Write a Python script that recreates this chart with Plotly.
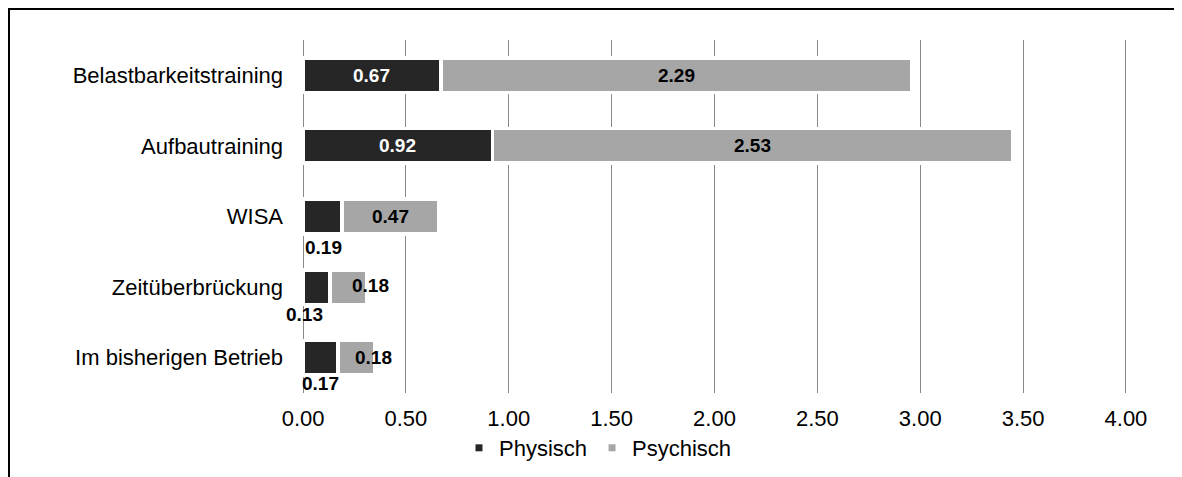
import plotly.graph_objects as go

categories = ["Belastbarkeitstraining", "Aufbautraining", "WISA", "Zeitüberbrückung", "Im bisherigen Betrieb"]
physisch = [0.67, 0.92, 0.19, 0.13, 0.17]
psychisch = [2.29, 2.53, 0.47, 0.18, 0.18]
tick_vals = [0, 0.5, 1, 1.5, 2, 2.5, 3, 3.5, 4]
tick_text = ["0.00", "0.50", "1.00", "1.50", "2.00", "2.50", "3.00", "3.50", "4.00"]

C_PHYS = "#262626"
C_PSY = "#a6a6a6"
FONT = "Liberation Sans, Arial, sans-serif"

fig = go.Figure()
fig.add_trace(go.Bar(y=categories, x=physisch, orientation="h", name="Physisch",
                     marker=dict(color=C_PHYS, line=dict(color="white", width=3.5)),
                     showlegend=False, hoverinfo="skip"))
fig.add_trace(go.Bar(y=categories, x=psychisch, orientation="h", name="Psychisch",
                     marker=dict(color=C_PSY, line=dict(color="white", width=3.5)),
                     showlegend=False, hoverinfo="skip"))
# legend entries with small square markers
fig.add_trace(go.Scatter(x=[None], y=[None], mode="markers", name="Physisch",
                         marker=dict(symbol="square", size=7, color=C_PHYS)))
fig.add_trace(go.Scatter(x=[None], y=[None], mode="markers", name="Psychisch",
                         marker=dict(symbol="square", size=7, color=C_PSY)))

# label placement styles (pixel shifts)
phys_style = [("in", 0, 0), ("in", 0, 0), ("below", 1, -30.5), ("below", -12, -27), ("below", 0, -26)]
psy_style = [(0, 0), (0, 0), (0, 0), (22, 2), (17, 0)]

annotations = []
for i, cat in enumerate(categories):
    p, q = physisch[i], psychisch[i]
    mode, xs, ys = phys_style[i]
    annotations.append(dict(x=p / 2, y=cat, xref="x", yref="y", text=f"<b>{p:.2f}</b>",
                            showarrow=False, xshift=xs, yshift=ys,
                            font=dict(family=FONT, size=19,
                                      color="white" if mode == "in" else "black")))
    pxs, pys = psy_style[i]
    annotations.append(dict(x=p + q / 2, y=cat, xref="x", yref="y", text=f"<b>{q:.2f}</b>",
                            showarrow=False, xshift=pxs, yshift=pys,
                            font=dict(family=FONT, size=19, color="black")))

# page body has an 8px margin, so the figure is 8px smaller and everything is shifted
OFF = 8
UNIT = 205.75      # px per 1.0 on the value axis
PAD = 0.01         # small range padding so the gridlines at 0 and 4 are drawn
W, H = 1182 - OFF, 477 - OFF
L = round(303 - PAD * UNIT) - OFF
R = W - (round(1126 + PAD * UNIT) - OFF)
T = 40 - OFF
B = H - (393 - OFF)
pw, ph = W - L - R, H - T - B
X0 = L + OFF  # page x of paper 0

fig.update_layout(
    width=W, height=H,
    margin=dict(l=L, r=R, t=T, b=B, autoexpand=False),
    paper_bgcolor="white", plot_bgcolor="white",
    barmode="stack", bargap=0.51,
    font=dict(family=FONT, size=22, color="black"),
    xaxis=dict(range=[-PAD, 4 + PAD], tickvals=tick_vals, ticktext=tick_text,
               showgrid=True, gridcolor="#8a8a8a", gridwidth=1.2,
               zeroline=False, showline=False, ticks="", ticklabelstandoff=10,
               tickfont=dict(family=FONT, size=22, color="black"), fixedrange=True),
    yaxis=dict(autorange="reversed", showgrid=False, zeroline=False, showline=False,
               ticks="", ticklabelstandoff=17,
               tickfont=dict(family=FONT, size=22, color="black"), fixedrange=True),
    legend=dict(orientation="h", traceorder="normal", x=(459 - X0) / pw, xanchor="left",
                y=(393 - 448) / ph, yanchor="middle",
                font=dict(family=FONT, size=22, color="black"),
                itemwidth=30, bgcolor="rgba(0,0,0,0)"),
    annotations=annotations,
    shapes=[dict(type="rect", xref="paper", yref="paper",
                 x0=(1 - L) / pw, x1=(W + 20 - L) / pw,
                 y0=(H - B - (H + 20)) / ph, y1=(H - B - 1) / ph,
                 line=dict(color="black", width=2), fillcolor="rgba(0,0,0,0)", layer="above")],
)

fig.write_html("out.html")
